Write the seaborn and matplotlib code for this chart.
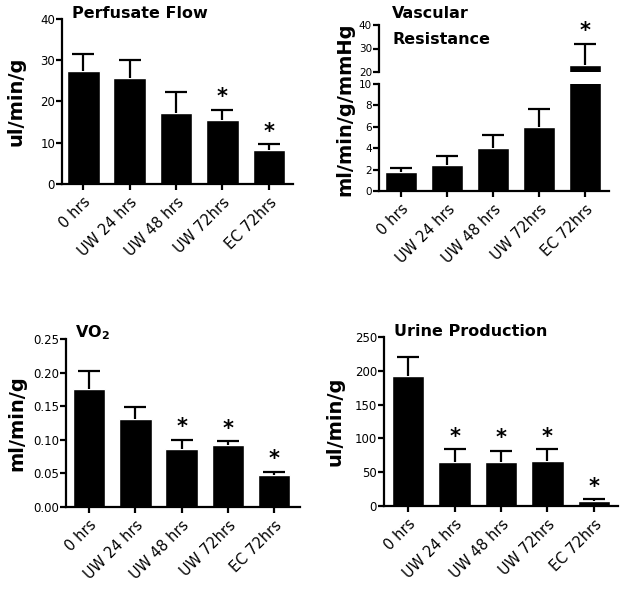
import matplotlib
matplotlib.use("Agg")
import matplotlib.pyplot as plt
import seaborn as sns
import numpy as np

categories = ["0 hrs", "UW 24 hrs", "UW 48 hrs", "UW 72hrs", "EC 72hrs"]

flow = [27.3, 25.8, 17.3, 15.4, 8.3]
flow_err = [4.2, 4.3, 5.0, 2.6, 1.3]
flow_sig = [False, False, False, True, True]

resist = [1.8, 2.45, 4.0, 5.95, 22.9]
resist_err = [0.35, 0.85, 1.22, 1.75, 9.1]
resist_sig = [False, False, False, False, True]

vo2 = [0.176, 0.1315, 0.086, 0.093, 0.047]
vo2_err = [0.027, 0.018, 0.014, 0.005, 0.0055]
vo2_sig = [False, False, True, True, True]

urine = [193, 65.8, 65.8, 67.3, 7.9]
urine_err = [28, 18, 16, 16.4, 2.0]
urine_sig = [False, True, True, True, True]

sns.set_theme(style="ticks")
plt.rcParams["font.family"] = ["DejaVu Sans"]
plt.rcParams["axes.linewidth"] = 1.6
plt.rcParams["xtick.major.width"] = 1.6
plt.rcParams["ytick.major.width"] = 1.6
plt.rcParams["xtick.major.size"] = 4
plt.rcParams["ytick.major.size"] = 4
plt.rcParams["xtick.labelsize"] = 10.5
plt.rcParams["ytick.labelsize"] = 8.5
plt.rcParams["axes.edgecolor"] = "black"
plt.rcParams["xtick.color"] = "black"
plt.rcParams["ytick.color"] = "black"
plt.rcParams["text.color"] = "black"
plt.rcParams["axes.labelcolor"] = "black"

W, H = 624, 594
fig = plt.figure(figsize=(W / 100, H / 100), dpi=100)


def px_axes(left, top, right, bottom):
    return fig.add_axes([left / W, 1 - bottom / H, (right - left) / W, (bottom - top) / H])


def draw(ax, vals, errs, sigs, xlim, ylim, yticks, yfmt, show_x=True):
    sns.barplot(x=categories, y=vals, color="black", saturation=1, width=0.7,
                errorbar=None, ax=ax)
    _, caps, _ = ax.errorbar(x=np.arange(len(vals)), y=vals,
                             yerr=[np.zeros(len(vals)), errs],
                             fmt="none", ecolor="black", elinewidth=1.6,
                             capsize=8, capthick=1.6)
    caps[0].set_visible(False)
    ax.set_xlim(*xlim)
    ax.set_ylim(*ylim)
    ax.set_yticks(yticks)
    ax.set_yticklabels([yfmt.format(t) for t in yticks])
    sns.despine(ax=ax)
    ax.set_xlabel("")
    ax.set_ylabel("")
    if show_x:
        ax.set_xticks(range(len(categories)))
        ax.set_xticklabels(categories, rotation=45, ha="right", rotation_mode="anchor")
    ax.tick_params(axis="y", pad=1)
    for i, (v, e, s) in enumerate(zip(vals, errs, sigs)):
        if s:
            t = ax.annotate("*", xy=(i, v + e), xytext=(0, 9), textcoords="offset points",
                            ha="center", va="center", fontsize=15, fontweight="bold")
            t.set_clip_on(False)


# Panel 1: Perfusate Flow
ax1 = px_axes(62, 19, 293, 184)
draw(ax1, flow, flow_err, flow_sig, (-0.46, 4.52), (0, 40), [0, 10, 20, 30, 40], "{:g}")
ax1.set_ylabel("ul/min/g", fontsize=14, fontweight="bold")
ax1.yaxis.set_label_coords(-0.16, 0.5)
fig.text(72 / W, 1 - 13 / H, "Perfusate Flow", fontsize=11.5, fontweight="bold",
         ha="left", va="center")

# Panel 2: Vascular Resistance (broken axis)
ax2 = px_axes(379, 84, 609, 191)
draw(ax2, resist, resist_err, [False] * 5, (-0.48, 4.52), (0, 10), [0, 2, 4, 6, 8, 10], "{:g}")
ax2u = px_axes(379, 25, 609, 72)
draw(ax2u, resist, resist_err, resist_sig, (-0.48, 4.52), (20, 40), [20, 30, 40], "{:g}",
     show_x=False)
ax2u.spines["bottom"].set_visible(False)
ax2u.tick_params(axis="x", bottom=False, labelbottom=False)
ax2u.set_xticks([])
for a in (ax2, ax2u):
    a.tick_params(axis="y", labelsize=7.5)
fig.text(345 / W, 1 - 109 / H, "ml/min/g/mmHg", fontsize=14, fontweight="bold",
         rotation=90, ha="center", va="center")
fig.text(392 / W, 1 - 13 / H, "Vascular", fontsize=11.5, fontweight="bold",
         ha="left", va="center")
fig.text(392 / W, 1 - 40 / H, "Resistance", fontsize=11.5, fontweight="bold",
         ha="left", va="center")

# Panel 3: VO2
ax3 = px_axes(66, 339, 300, 507)
draw(ax3, vo2, vo2_err, vo2_sig, (-0.5, 4.56), (0, 0.25),
     [0.0, 0.05, 0.10, 0.15, 0.20, 0.25], "{:.2f}")
ax3.set_ylabel("ml/min/g", fontsize=14, fontweight="bold")
ax3.yaxis.set_label_coords(-0.17, 0.5)
fig.text(75 / W, 1 - 333 / H, "VO$_\\mathregular{2}$", fontsize=11.5, fontweight="bold",
         ha="left", va="center")

# Panel 4: Urine Production
ax4 = px_axes(384, 337, 618, 506)
draw(ax4, urine, urine_err, urine_sig, (-0.52, 4.52), (0, 250),
     [0, 50, 100, 150, 200, 250], "{:g}")
ax4.set_ylabel("ul/min/g", fontsize=14, fontweight="bold")
ax4.yaxis.set_label_coords(-0.17, 0.5)
fig.text(394 / W, 1 - 332 / H, "Urine Production", fontsize=11.5, fontweight="bold",
         ha="left", va="center")

fig.savefig("out.png", dpi=100, facecolor="white")
